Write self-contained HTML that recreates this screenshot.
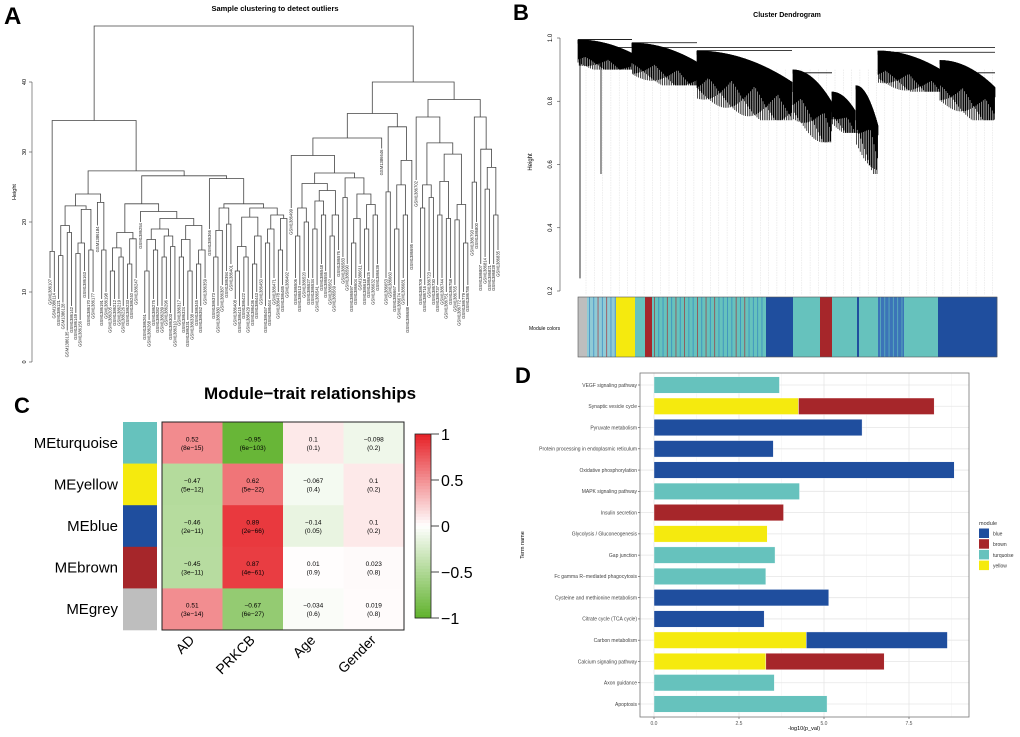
<!DOCTYPE html>
<html><head><meta charset="utf-8">
<style>
html,body{margin:0;padding:0;background:#fff;}
svg{display:block;font-family:"Liberation Sans",sans-serif;}
</style></head>
<body>
<svg id="fig" width="1020" height="737" viewBox="0 0 1020 737" xmlns="http://www.w3.org/2000/svg">
  <text x="4" y="24" font-size="24" font-weight="bold">A</text>
  <text x="513" y="20" font-size="22" font-weight="bold">B</text>
  <text x="14" y="413" font-size="22" font-weight="bold">C</text>
  <text x="515" y="383" font-size="22" font-weight="bold">D</text>

  <g id="panelA">
    <text x="275" y="11" font-size="7.5" font-weight="bold" text-anchor="middle">Sample clustering to detect outliers</text>
    <text transform="translate(16,192) rotate(-90)" font-size="5.5" text-anchor="middle">Height</text>
    <g id="aAxis"></g>
    <g id="aTree"></g>
  </g>

  <g id="panelB">
    <text x="787" y="17" font-size="7" font-weight="bold" text-anchor="middle">Cluster Dendrogram</text>
    <text transform="translate(532,162) rotate(-90)" font-size="6" text-anchor="middle">Height</text>
    <g id="bAxis"></g>
    <g id="bTree"></g>
    <text x="529" y="330" font-size="5">Module colors</text>
    <g id="bColors"></g>
  </g>

  <g id="panelC">
    <text x="310" y="399" font-size="17" font-weight="bold" text-anchor="middle">Module−trait relationships</text>
    <g id="cHeat"></g>
    <g id="cBar"></g>
  </g>

  <g id="panelD">
    <g id="dChart"></g>
    <text transform="translate(524,545) rotate(-90)" font-size="5.5" text-anchor="middle">Term name</text>
    <text x="804" y="730" font-size="5.5" text-anchor="middle">-log10(p_val)</text>
    <g id="dLegend"></g>
  </g>
</svg>
<script>
// ===== Panel D data =====
const dTerms = ["VEGF signaling pathway","Synaptic vesicle cycle","Pyruvate metabolism","Protein processing in endoplasmic reticulum","Oxidative phosphorylation","MAPK signaling pathway","Insulin secretion","Glycolysis / Gluconeogenesis","Gap junction","Fc gamma R−mediated phagocytosis","Cysteine and methionine metabolism","Citrate cycle (TCA cycle)","Carbon metabolism","Calcium signaling pathway","Axon guidance","Apoptosis"];
const dSeg1Module = ["turquoise","yellow","blue","blue","blue","turquoise","brown","yellow","turquoise","turquoise","blue","blue","yellow","yellow","turquoise","turquoise"];
const dSeg1Value = [3.69,4.25,6.12,3.51,8.83,4.28,3.81,3.33,3.56,3.29,5.14,3.24,4.48,3.29,3.54,5.09];
const dSeg2Module = [null,"brown",null,null,null,null,null,null,null,null,null,null,"blue","brown",null,null];
const dSeg2Value = [0,3.99,0,0,0,0,0,0,0,0,0,0,4.15,3.48,0,0];
const dTicks = [0,2.5,5.0,7.5];
const dTickLabels = ["0.0","2.5","5.0","7.5"];
const moduleNames = ["blue","brown","turquoise","yellow"];

// ===== Panel C data =====
const cModules = ["MEturquoise","MEyellow","MEblue","MEbrown","MEgrey"];
const cModuleColors = ["#66c2bd","#f5ea0e","#1f4e9e","#a6262a","#bebebe"];
const cTraits = ["AD","PRKCB","Age","Gender"];
const cCorr = [[0.52,-0.95,0.1,-0.098],[-0.47,0.62,-0.067,0.1],[-0.46,0.89,-0.14,0.1],[-0.45,0.87,0.01,0.023],[0.51,-0.67,-0.034,0.019]];
const cPval = [["8e−15","6e−103","0.1","0.2"],["5e−12","5e−22","0.4","0.2"],["2e−11","2e−66","0.05","0.2"],["3e−11","4e−61","0.9","0.8"],["3e−14","6e−27","0.6","0.8"]];
const cCorrLabels = [["0.52","−0.95","0.1","−0.098"],["−0.47","0.62","−0.067","0.1"],["−0.46","0.89","−0.14","0.1"],["−0.45","0.87","0.01","0.023"],["0.51","−0.67","−0.034","0.019"]];
const cScaleTicks = [1,0.5,0,-0.5,-1];
const cScaleLabels = ["1","0.5","0","−0.5","−1"];

// ===== Panel A data =====
const aTreeData = [48,
  [34.5, [15.8,12,10],
    [27.3,
      [24,[22.3,[19.5,[15.2,9,8.5],[18.5,4.5,8]],[21.8,[17,[15.5,7,6],13],[16,9,10]]],[22.8,19.5,[16,9,10]]],
      [26.6,
        [22.6,[18.5,[16.3,[13,8,9],[15,9,8]],[17.6,[14,9,10],12]],[21.5,20,[20.5,[19,[17.5,[13,7,6],[16,9,8]],[18,[15,8,9],[16.5,7,6]]],[19.5,[17.5,[15,9,8],[13,6,7]],[16,[14,9,8],12]]]]],
        [26.2,19,[22.6,[22,[18.8,[15,10,8],11],[19.7,13,14]],[22,[20.7,[16.5,[13,9,8],[15,10,8]],[18,[14,9,10],12]],[21,[19,[17,8,9],12],[20.5,[16,10,11],13]]]]]
      ]
    ]
  ],
  [40,
    [35.5,
      [32,[29.5,22,[27,[25.5,[22,[18,12,11],[20,13,12]],[24.5,[23,[19,12,11],[21,14,13]],[21,[18,12,11],16]]],[26.3,[23.5,15,14],[24,[20.5,[17,11,12],14],[22.5,[19,12,13],[21,12,14]]]]]],30.5],
      [33.6,[24.3,12,13],[28.8,[25.3,[19,11,10],[21,12,8]],17]]
    ],
    [37.5,
      [35,26,[31.3,[25.3,[22,12,11],[23.5,13,12]],[29.7,[25.8,[21,11,12],[20.5,10,12]],[22.5,[20.3,11,9],[17,10,11]]]]],
      [35,[25.7,19,20],[30.4,14,[27.8,[24.7,15,14],[21,14,16]]]]
    ]
  ]
];
const aTicks = [0,10,20,30,40];

// ===== Panel B data =====
const bFanStart = [578,632,697,793,832,856,878,940];
const bFanEnd   = [632,697,792,832,855,878,940,995];
const bFanTop   = [0.995,0.985,0.96,0.90,0.83,0.85,0.96,0.93];
const bFanBottom= [0.90,0.85,0.74,0.67,0.70,0.57,0.83,0.74];
const bTicks = [0.2,0.4,0.6,0.8,1.0];
const bSegStart = [578,587,616,635,645,652,766,793,820,832,857,859,878,904,938];
const bSegEnd   = [587,616,635,645,652,766,793,820,832,857,859,878,904,938,997];
const bSegColor = ["grey","mix","yellow","turquoise","brown","turquoise","blue","turquoise","brown","turquoise","blue","turquoise","mixblue","turquoise","blue"];

const NS="http://www.w3.org/2000/svg";
const COL={blue:"#1f4e9e",brown:"#a6262a",turquoise:"#66c2bd",yellow:"#f5ea0e",grey:"#bebebe"};
function mk(tag,attrs,parent){const e=document.createElementNS(NS,tag);for(const k in attrs)e.setAttribute(k,attrs[k]);parent.appendChild(e);return e;}

// ---------- Panel D ----------
(function(){
  const g=document.getElementById('dChart');
  const x0=654,pxPer=34,top=373,bot=717,left=640,right=969;
  const xs=v=>x0+v*pxPer;
  const step=(704-385)/(dTerms.length-1);
  const ys=i=>385+i*step;
  const bg=mk('rect',{x:left,y:top,width:right-left,height:bot-top,fill:"#fff",stroke:"none"},g);
  
  
  [1.25,3.75,6.25,8.75].forEach(t=>{const l=mk('line',{x1:xs(t),x2:xs(t),y1:top,y2:bot,stroke:"#f2f2f2","stroke-width":0.5},g);
    });
  dTicks.forEach((t,i)=>{const l=mk('line',{x1:xs(t),x2:xs(t),y1:top,y2:bot,stroke:"#e6e6e6","stroke-width":0.8},g);
    
    const tk=mk('line',{x1:xs(t),x2:xs(t),y1:bot,y2:bot+2,stroke:"#444","stroke-width":0.6},g);
    
    const tx=mk('text',{x:xs(t),y:bot+8,"font-size":5,"text-anchor":"middle",fill:"#555"},g);tx.textContent=dTickLabels[i];
    });
  dTerms.forEach((t,i)=>{
    const y=ys(i);
    const gl=mk('line',{x1:left,x2:right,y1:y,y2:y,stroke:"#e6e6e6","stroke-width":0.8},g);
    
    const h=16.5;
    const r1=mk('rect',{x:xs(0),y:y-h/2,width:dSeg1Value[i]*pxPer,height:h,fill:COL[dSeg1Module[i]],stroke:"#fff","stroke-width":0.4},g);
    
    if(dSeg2Module[i]){
      const r2=mk('rect',{x:xs(dSeg1Value[i]),y:y-h/2,width:dSeg2Value[i]*pxPer,height:h,fill:COL[dSeg2Module[i]],stroke:"#fff","stroke-width":0.4},g);
      
    }
    const tk=mk('line',{x1:left-2,x2:left,y1:y,y2:y,stroke:"#444","stroke-width":0.6},g);
    
    const tx=mk('text',{x:left-3,y:y+1.8,"font-size":5,"text-anchor":"end",fill:"#444"},g);tx.textContent=t;
    
  });
  const fr=mk('rect',{x:left,y:top,width:right-left,height:bot-top,fill:"none",stroke:"#777","stroke-width":0.8},g);
  
  const lg=document.getElementById('dLegend');
  const lt=mk('text',{x:979,y:525,"font-size":5.5,fill:"#333"},lg);lt.textContent="module";
  
  moduleNames.forEach((m,i)=>{
    const k=mk('rect',{x:979,y:528.5+i*10.7,width:10,height:9.5,fill:COL[m]},lg);
    
    const t=mk('text',{x:993,y:535.5+i*10.7,"font-size":5,fill:"#333"},lg);t.textContent=m;
    
  });
})();

// ---------- Panel C ----------
(function(){
  const g=document.getElementById('cHeat');
  const gx0=162,gx1=404,gy0=422,gy1=630;
  const cw=(gx1-gx0)/cTraits.length,rh=(gy1-gy0)/cModules.length;
  function color(v){
    const red=[230,32,38],green=[96,178,44];
    const c=v>=0?red:green,a=Math.abs(v);
    return "rgb("+c.map(q=>Math.round(255*(1-a)+q*a)).join(",")+")";
  }
  cModules.forEach((m,i)=>{
    const y=gy0+i*rh;
    const sw=mk('rect',{x:123,y:y,width:34,height:rh+0.3,fill:cModuleColors[i]},g);
    
    const lb=mk('text',{x:118,y:y+rh/2+5,"font-size":15,"text-anchor":"end"},g);lb.textContent=m;
    
    cTraits.forEach((t,j)=>{
      const x=gx0+j*cw;
      const c=mk('rect',{x:x,y:y,width:cw+0.3,height:rh+0.3,fill:color(cCorr[i][j])},g);
      
      const t1=mk('text',{x:x+cw/2,y:y+rh/2-1.5,"font-size":6.5,"text-anchor":"middle"},g);t1.textContent=cCorrLabels[i][j];
      
      const t2=mk('text',{x:x+cw/2,y:y+rh/2+7,"font-size":6.5,"text-anchor":"middle"},g);t2.textContent="("+cPval[i][j]+")";
      
    });
  });
  const fr=mk('rect',{x:gx0,y:gy0,width:gx1-gx0,height:gy1-gy0,fill:"none",stroke:"#222","stroke-width":1},g);
  
  cTraits.forEach((t,j)=>{
    const cx=gx0+(j+0.5)*cw+3,cy=641;
    const tx=mk('text',{x:cx,y:cy,"font-size":14,"text-anchor":"end",transform:"rotate(-45 "+cx+" "+cy+")"},g);tx.textContent=t;
    
  });
  const b=document.getElementById('cBar');
  const bx=415,bw=16,by0=434,by1=618;
  const yv=v=>by0+(1-v)/2*(by1-by0);
  const n=60;
  for(let k=0;k<n;k++){
    const v=1-2*(k+0.5)/n;
    const r=mk('rect',{x:bx,y:by0+k*(by1-by0)/n,width:bw,height:(by1-by0)/n+0.4,fill:color(v)},b);
    
  }
  const br=mk('rect',{x:bx,y:by0,width:bw,height:by1-by0,fill:"none",stroke:"#222","stroke-width":0.8},b);
  
  cScaleTicks.forEach((v,i)=>{
    const y=yv(v);
    const l=mk('line',{x1:bx+bw,x2:bx+bw+8,y1:y,y2:y,stroke:"#444","stroke-width":1},b);
    
    const t=mk('text',{x:bx+bw+10,y:y+6,"font-size":16},b);t.textContent=cScaleLabels[i];
    
  });
})();

// ---------- Panel A ----------
(function(){
  const ax=document.getElementById('aAxis');
  const yv=h=>362-h*7;
  const al=mk('line',{x1:32,x2:32,y1:yv(0),y2:yv(40),stroke:"#444","stroke-width":0.6},ax);
  
  aTicks.forEach(t=>{
    const l=mk('line',{x1:29,x2:32,y1:yv(t),y2:yv(t),stroke:"#444","stroke-width":0.6},ax);
    
    const tx=mk('text',{x:0,y:0,"font-size":5.5,"text-anchor":"middle",transform:"translate(26,"+yv(t)+") rotate(-90)"},ax);tx.textContent=t;
    
  });
  const g=document.getElementById('aTree');
  function count(n){return Array.isArray(n)?count(n[1])+count(n[2]):1;}
  const N=count(aTreeData);
  const xL=50,xR=498,dx=(xR-xL)/(N-1);
  let idx=0;
  function draw(n){
    if(!Array.isArray(n)){
      const x=xL+(idx++)*dx;
      const t=mk('text',{x:0,y:0,"font-size":4.2,"text-anchor":"end",fill:"#222",transform:"translate("+(x+1.4)+","+(yv(n)+1)+") rotate(-90)"},g);
      t.textContent="GSM"+(1386100+idx*7);
      
      return {x:x,h:n};
    }
    const a=draw(n[1]),b=draw(n[2]);
    const y=yv(n[0]);
    const p=mk('path',{d:"M"+a.x+" "+yv(a.h)+"V"+y+"H"+b.x+"V"+yv(b.h),fill:"none",stroke:"#444","stroke-width":0.8},g);
    
    return {x:(a.x+b.x)/2,h:n[0]};
  }
  draw(aTreeData);
})();

// ---------- Panel B ----------
(function(){
  const ax=document.getElementById('bAxis');
  const yv=h=>38+(1-h)/0.8*253;
  const al=mk('line',{x1:560,x2:560,y1:yv(0.2),y2:yv(1),stroke:"#444","stroke-width":0.6},ax);
  
  bTicks.forEach(t=>{
    const l=mk('line',{x1:557,x2:560,y1:yv(t),y2:yv(t),stroke:"#444","stroke-width":0.6},ax);
    
    const tx=mk('text',{x:0,y:0,"font-size":6,"text-anchor":"middle",transform:"translate(552,"+yv(t)+") rotate(-90)"},ax);tx.textContent=t.toFixed(1);
    
  });
  const g=document.getElementById('bTree');
  for(let x=586;x<997;x+=8.3){
    const l=mk('line',{x1:x,x2:x,y1:yv(0.9),y2:295,stroke:"#dcdcdc","stroke-width":0.5,"stroke-dasharray":"1.5,1"},g);
    
  }
  const tops=[[578,632,0.995],[632,697,0.985],[578,860,0.97],[697,792,0.96],[860,995,0.97],[793,832,0.89],[878,995,0.955],[940,995,0.89]];
  tops.forEach(t=>{const l=mk('line',{x1:t[0],x2:t[1],y1:yv(t[2]),y2:yv(t[2]),stroke:"#000","stroke-width":0.8},g);
    });
  bFanStart.forEach((s,i)=>{
    const e=bFanEnd[i],top=bFanTop[i],bot=bFanBottom[i];
    let d="";
    for(let x=s;x<=e;x+=0.6){
      const f=(x-s)/(e-s);
      const ht=top-(top-bot)*0.45*f*f;
      const hb=ht-(0.03+(ht-bot)*(0.25+0.75*Math.abs(Math.sin(x*1.7))*(0.4+0.6*f)));
      d+="M"+x.toFixed(1)+" "+yv(ht).toFixed(1)+"V"+yv(Math.max(hb,bot)).toFixed(1);
    }
    const p=mk('path',{d:d,stroke:"#000","stroke-width":0.7,fill:"none"},g);
    
    let d2="";
    for(let x=s;x<=e;x+=0.5){
      const f=(x-s)/(e-s);
      const ht=top-(top-bot)*0.45*f*f;
      d2+="M"+x.toFixed(1)+" "+yv(ht).toFixed(1)+"V"+(yv(ht)+4+6*f).toFixed(1);
    }
    const p2=mk('path',{d:d2,stroke:"#000","stroke-width":0.8,fill:"none"},g);
    
  });
  [[580,0.995,0.24],[601,0.97,0.57]].forEach(t=>{const l=mk('line',{x1:t[0],x2:t[0],y1:yv(t[1]),y2:yv(t[2]),stroke:"#000","stroke-width":0.8},g);
    });
  const c=document.getElementById('bColors');
  bSegStart.forEach((s,i)=>{
    const k=bSegColor[i];
    const base=k==="mix"?"#8fcbd6":k==="mixblue"?"#3b74b8":COL[k];
    const r=mk('rect',{x:s,y:297,width:bSegEnd[i]-s+0.3,height:60,fill:base},c);
    
    if(k==="mix"||k==="mixblue"||(k==="turquoise"&&bSegEnd[i]-s>50)){
      for(let x=s+2;x<bSegEnd[i]-1;x+=4.3){
        const col=k==="mixblue"?"#66c2bd":(Math.floor(x)%3===0?"#a6262a":"#2f7fc0");
        const l=mk('rect',{x:x,y:297,width:0.9,height:60,fill:col,opacity:0.7},c);
        
      }
    }
  });
  const fr=mk('rect',{x:578,y:297,width:419,height:60,fill:"none",stroke:"#555","stroke-width":0.6},c);
  
})();
</script>
</body></html>
